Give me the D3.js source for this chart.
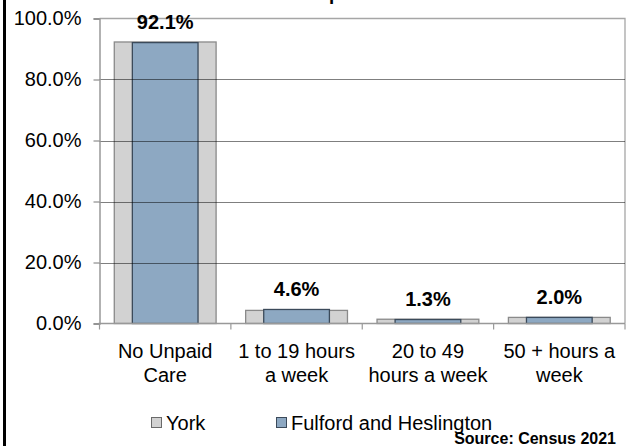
<!DOCTYPE html>
<html><head><meta charset="utf-8">
<script src="https://cdn.jsdelivr.net/npm/d3@7"></script>
<style>
html,body{margin:0;padding:0;background:#fff;}
svg{display:block;font-family:"Liberation Sans",Arial,sans-serif;}
</style></head>
<body>
<svg id="c" width="627" height="446"></svg>
<script>
const categories = ["No Unpaid\nCare", "1 to 19 hours\na week", "20 to 49\nhours a week", "50 + hours a\nweek"];
const yorkValues = [92.3, 4.3, 1.4, 2.0];
const fulfordValues = [92.1, 4.6, 1.3, 2.0];
const seriesNames = ["York", "Fulford and Heslington"];
const yTicks = [0, 20, 40, 60, 80, 100];
const titleText = "Unpaid Care";
const sourceText = "Source: Census 2021";

(function () {
const svg = d3.select("#c");
const W = 627, H = 446;
const pL = 99.5, pR = 625, pT = 18.5, pB = 323.5;

const x = d3.scaleBand().domain(categories).range([pL, pR]).padding(0);
const y = d3.scaleLinear().domain([0, 100]).range([pB, pT]);

// left frame line
svg.append("line").attr("x1", 4.5).attr("x2", 4.5).attr("y1", 0).attr("y2", H)
  .attr("stroke", "#000").attr("stroke-width", 3);

// title (clipped at top)
const tt = svg.append("text").attr("font-weight", "bold").attr("font-size", 18.67)
  .attr("y", 0).text(titleText);
const tmp = svg.append("text").attr("font-weight", "bold").attr("font-size", 18.67).text("Un");
const unW = tmp.node().getComputedTextLength();
tmp.remove();
tt.attr("x", 330.5 - unW - 1.5);

// plot frame (top and right)
svg.append("path").attr("d", `M${pL},${pT}H${pR}V${pB}`)
  .attr("fill", "none").attr("stroke", "#a6a6a6").attr("stroke-width", 1.3);

// bars
const bw = x.bandwidth();
svg.append("g").selectAll("rect").data(categories).join("rect")
  .attr("x", d => x(d) + bw * (1 - 0.775) / 2)
  .attr("width", bw * 0.775)
  .attr("y", (d, i) => y(yorkValues[i]))
  .attr("height", (d, i) => y(0) - y(yorkValues[i]))
  .attr("fill", "#d2d2d2").attr("stroke", "#8a8a8a").attr("stroke-width", 1.3);
svg.append("g").selectAll("rect").data(categories).join("rect")
  .attr("x", d => x(d) + bw * 0.25)
  .attr("width", bw * 0.5)
  .attr("y", (d, i) => y(fulfordValues[i]))
  .attr("height", (d, i) => y(0) - y(fulfordValues[i]))
  .attr("fill", "#8da8c2").attr("stroke", "#3b4a5a").attr("stroke-width", 1.3);

// gridlines on top
svg.append("g").selectAll("line").data(yTicks.filter(t => t > 0 && t < 100)).join("line")
  .attr("x1", pL).attr("x2", pR).attr("y1", d => Math.round(y(d)) + 0.5).attr("y2", d => Math.round(y(d)) + 0.5)
  .attr("stroke", "rgba(0,0,0,0.5)").attr("stroke-width", 1);

// y axis
const yAxis = d3.axisLeft(y).tickValues(yTicks).tickSize(6).tickPadding(12)
  .tickFormat(d => d.toFixed(1) + "%");
const gy = svg.append("g").attr("transform", `translate(${pL},0)`).call(yAxis);
gy.select(".domain").attr("stroke", "#999").attr("stroke-width", 1.5);
gy.selectAll(".tick line").attr("stroke", "#777");
gy.selectAll(".tick text").attr("font-size", 20).attr("fill", "#000")
  .attr("font-family", "Liberation Sans, Arial, sans-serif");

// x axis
const gx = svg.append("g").attr("transform", `translate(0,${pB})`);
gx.append("line").attr("x1", pL - 1).attr("x2", pR).attr("y1", 0).attr("y2", 0)
  .attr("stroke", "#999").attr("stroke-width", 1.3);
gx.selectAll("line.t").data(categories.concat(["end"])).join("line").attr("class", "t")
  .attr("x1", (d, i) => i < categories.length ? x(d) : pR)
  .attr("x2", (d, i) => i < categories.length ? x(d) : pR)
  .attr("y1", 0).attr("y2", 6).attr("stroke", "#999").attr("stroke-width", 1.2);
const lbl = gx.selectAll("text.c").data(categories).join("text").attr("class", "c")
  .attr("text-anchor", "middle").attr("font-size", 20).attr("fill", "#000");
lbl.each(function(d) {
  const t = d3.select(this);
  d.split("\n").forEach((line, k) => {
    t.append("tspan").attr("x", x(d) + bw / 2).attr("y", 34 + k * 24).text(line);
  });
});

// data labels
svg.append("g").selectAll("text").data(categories).join("text")
  .attr("x", d => x(d) + bw / 2)
  .attr("y", (d, i) => y(Math.max(fulfordValues[i], yorkValues[i])) - 13)
  .attr("text-anchor", "middle").attr("font-size", 20).attr("font-weight", "bold")
  .text((d, i) => fulfordValues[i].toFixed(1) + "%");

// legend
const legendX = [151.5, 276.5];
const legendFill = ["#d2d2d2", "#8da8c2"];
const legendStroke = ["#6a6a6a", "#3b4a5a"];
const lg = svg.append("g");
seriesNames.forEach((s, i) => {
  lg.append("rect").attr("x", legendX[i]).attr("y", 417.5).attr("width", 10).attr("height", 10)
    .attr("fill", legendFill[i]).attr("stroke", legendStroke[i]).attr("stroke-width", 1);
  lg.append("text").attr("x", legendX[i] + 14.5).attr("y", 429.5).attr("font-size", 20).text(s);
});

// source
svg.append("text").attr("x", 616).attr("y", 443.5).attr("text-anchor", "end")
  .attr("font-size", 16).attr("font-weight", "bold").text(sourceText);
})();
</script>
</body></html>
